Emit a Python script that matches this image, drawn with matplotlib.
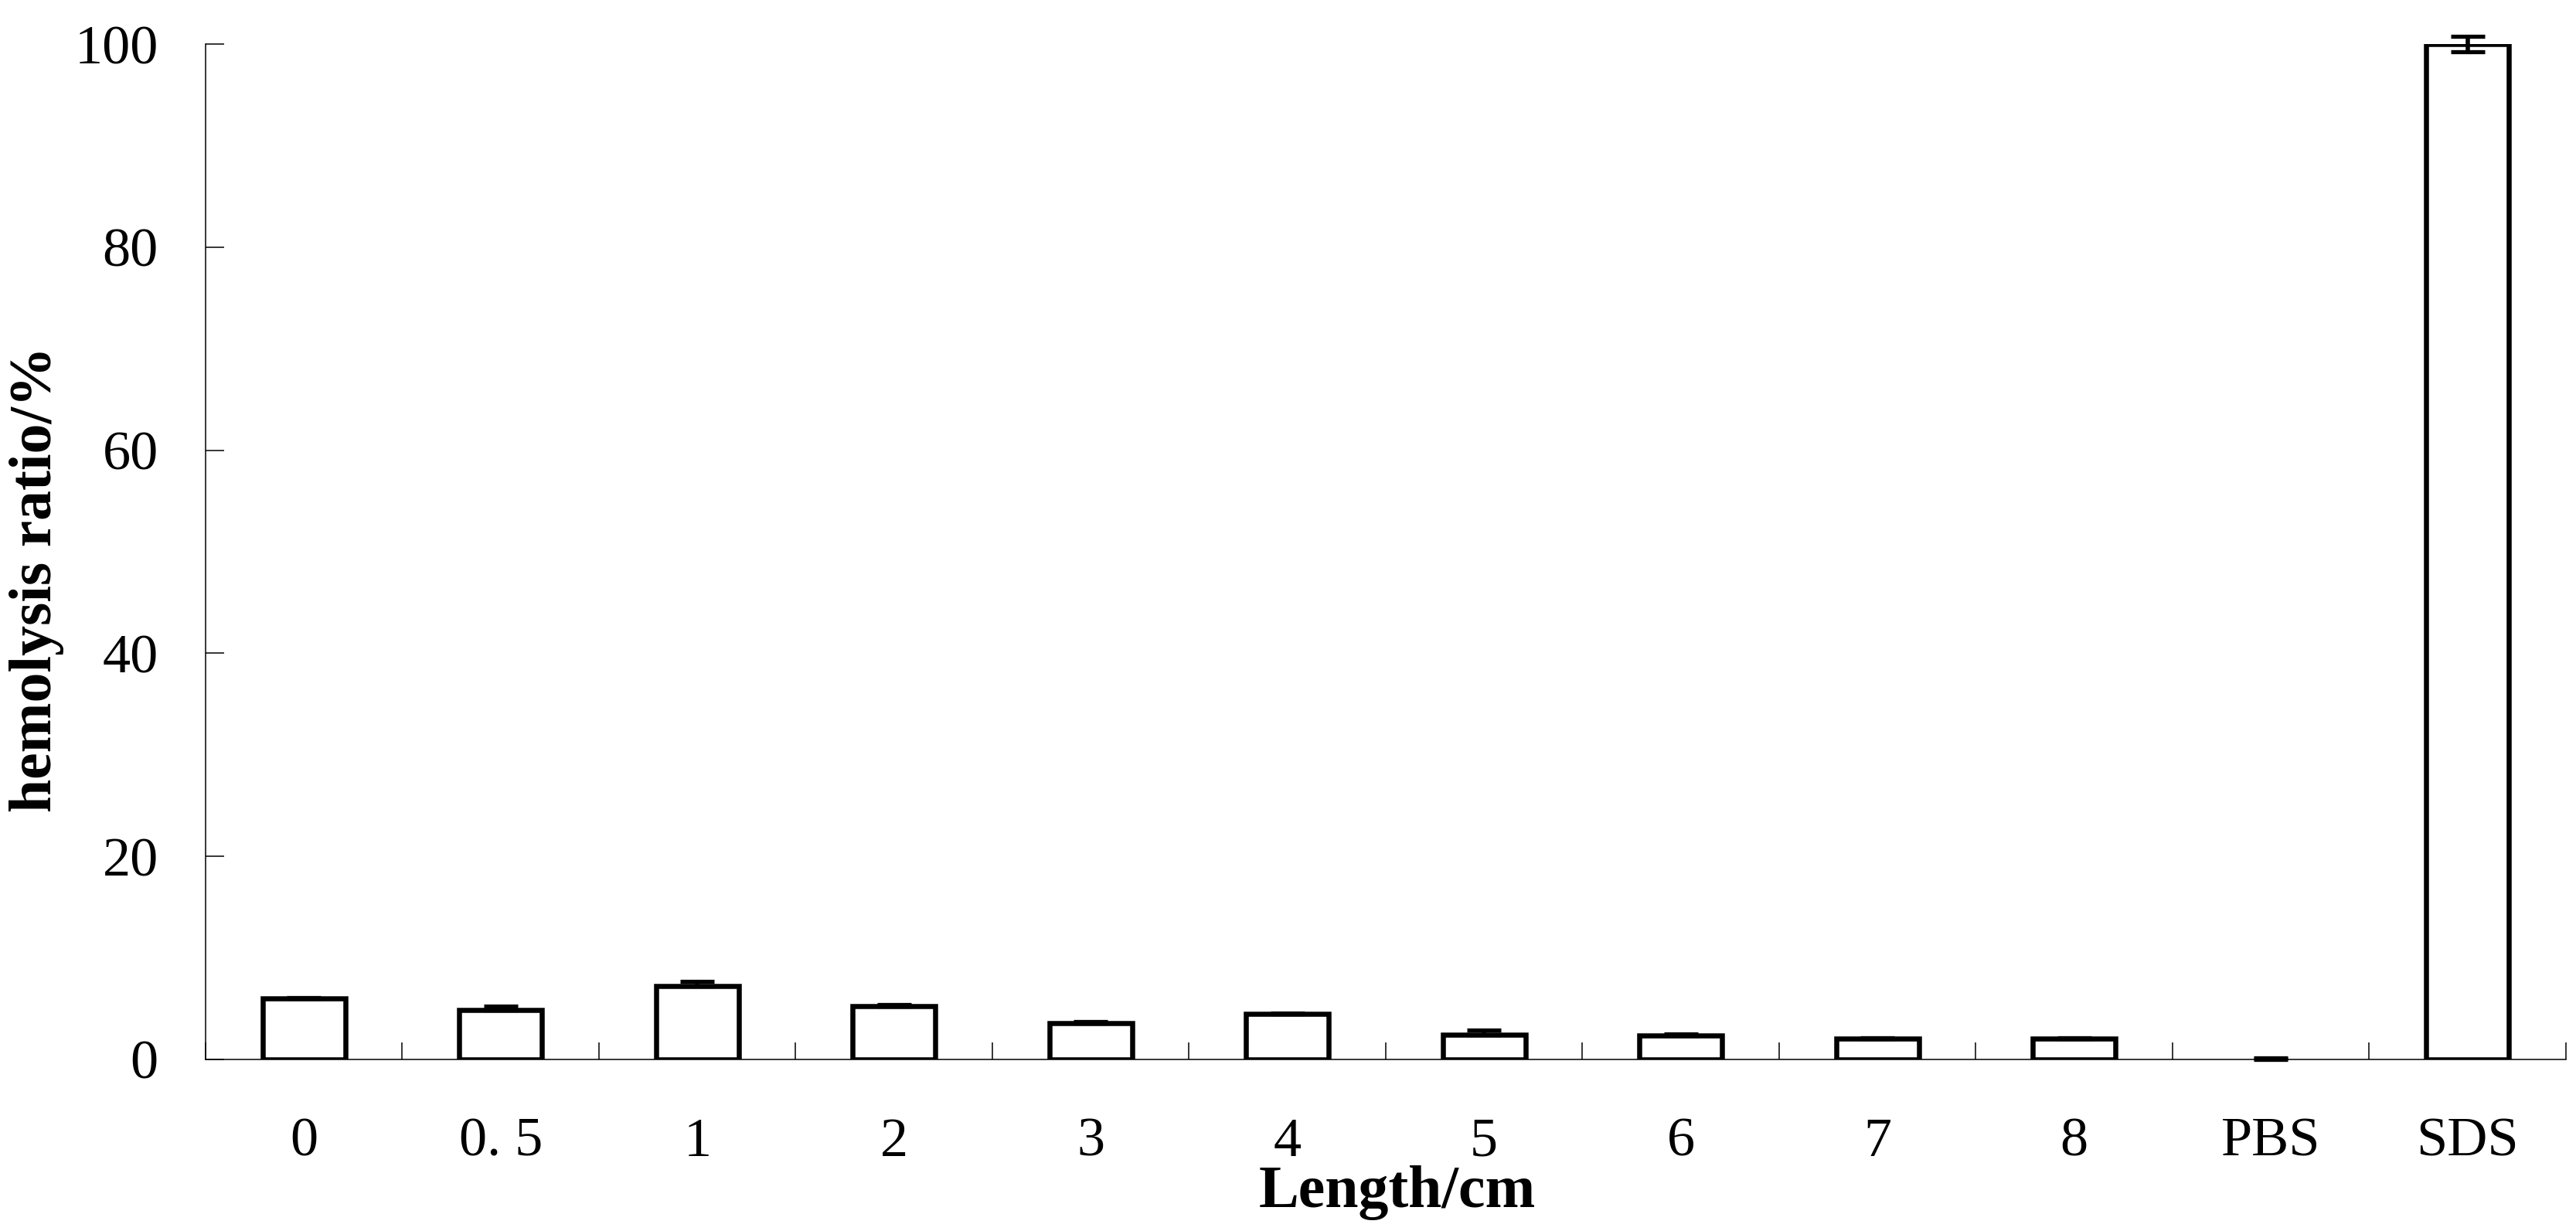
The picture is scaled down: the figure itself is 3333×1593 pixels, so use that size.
import matplotlib
matplotlib.use("Agg")
import matplotlib.pyplot as plt
import numpy as np
from matplotlib.ticker import FixedLocator

categories = ["0", "0. 5", "1", "2", "3", "4", "5", "6", "7", "8", "PBS", "SDS"]
hemolysis = [6.0, 4.83, 7.24, 5.28, 3.61, 4.45, 2.46, 2.34, 2.03, 2.03, 0.0, 100.0]
err_lower = [0.0, 0.0, 0.0, 0.0, 0.0, 0.0, 0.0, 0.0, 0.0, 0.0, 0.0, 0.77]
err_upper = [0.1, 0.45, 0.43, 0.12, 0.1, 0.1, 0.41, 0.2, 0.1, 0.1, 0.12, 0.77]
yticks = [0, 20, 40, 60, 80, 100]

plt.rcParams['font.family'] = ['Liberation Serif', 'DejaVu Serif']

fig = plt.figure(figsize=(33.33, 15.93), dpi=100)
ax = fig.add_axes([0.0798, 0.1394, 0.9163, 0.8248])

x = np.arange(len(categories))
lws = [4.7 if v > 0 else 0 for v in hemolysis]
ax.bar(x, hemolysis, width=0.42, color='white', edgecolor='black',
       linewidth=lws, zorder=2)
ax.errorbar(x, hemolysis, yerr=[err_lower, err_upper], fmt='none', ecolor='black',
            elinewidth=4, capsize=16, capthick=3.8, zorder=3, clip_on=False)

ax.set_xlim(-0.5, len(categories) - 0.5)
ax.set_ylim(0, 100)
ax.set_yticks(yticks)
ax.set_yticklabels([str(t) for t in yticks])
ax.set_xticks(x)
ax.set_xticklabels(categories)
ax.xaxis.set_minor_locator(FixedLocator(np.arange(-0.5, len(categories), 1.0)))

ax.spines['top'].set_visible(False)
ax.spines['right'].set_visible(False)
ax.spines['left'].set_linewidth(1.1)
ax.spines['bottom'].set_linewidth(1.1)

ax.tick_params(axis='x', which='major', length=0, pad=54, labelsize=52)
ax.tick_params(axis='x', which='minor', direction='in', length=16, width=1.1)
ax.tick_params(axis='y', which='major', direction='in', length=17, width=1.1,
               pad=44, labelsize=52)

ax.set_xlabel("Length/cm", fontsize=56, fontweight='bold')
ax.set_ylabel("hemolysis ratio/%", fontsize=56, fontweight='bold')
ax.xaxis.set_label_coords(0.505, -0.104)
ax.yaxis.set_label_coords(-0.060, 0.473)

fig.savefig("out.png", dpi=100, facecolor='white')
